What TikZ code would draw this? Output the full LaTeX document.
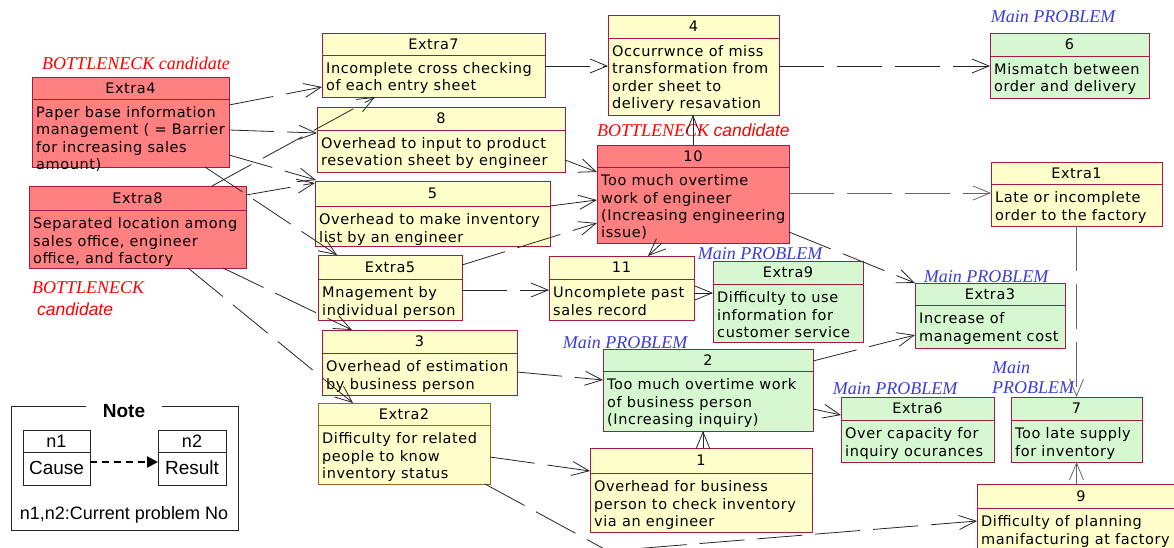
\documentclass[tikz,border=0pt]{standalone}
\usepackage{fontspec}
\usetikzlibrary{arrows.meta,calc}
\newfontfamily\boxfont[LetterSpace=4]{DejaVu Sans}
\newfontfamily\lblserif{Liberation Serif}
\newfontfamily\arialf{Liberation Sans}
\definecolor{bordc}{RGB}{165,25,70}
\definecolor{brownc}{RGB}{160,100,40}
\definecolor{yfill}{RGB}{255,255,204}
\definecolor{gfill}{RGB}{214,248,208}
\definecolor{rfill}{RGB}{255,128,128}
\definecolor{lblred}{RGB}{255,0,0}
\definecolor{lblblue}{RGB}{60,60,220}
\newcommand\ubox[9]{%
  \pgfmathsetmacro\uW{#4-#2}\pgfmathsetmacro\uH{#5-#3}%
  \node[uboxs,#7,minimum width=\uW pt,minimum height=\uH pt] (#1) at ({(#2+#4)/2},{(#3+#5)/2}) {};
  \draw[#7,line width=0.9pt] (#2,#6) -- (#4,#6);
  \node[utitle] (#1t) at ({(#2+#4)/2},{(#3+#6)/2}) {#8};
  \node[ubody] (#1b) at (#2+4,#6+5.5) {\rule{0pt}{13pt}#9};
}
\begin{document}
\begin{tikzpicture}[x=1pt,y=-1pt,
  uboxs/.style={draw,line width=0.9pt,inner sep=0pt,outer sep=0pt},
  yb/.style={fill=yfill,draw=bordc},
  ybb/.style={fill=yfill,draw=brownc},
  gb/.style={fill=gfill,draw=bordc},
  rb/.style={fill=rfill,draw=bordc},
  utitle/.style={inner sep=0pt,anchor=center,text height=10.5pt,text depth=0pt,
    font=\boxfont\fontsize{14.5}{17}\selectfont},
  ubody/.style={inner sep=0pt,anchor=north west,align=left,
    font=\boxfont\fontsize{14.5}{17.3}\selectfont},
  conn/.style={draw=black!85,line width=0.8pt,dash pattern=on 45pt off 13pt,
    -{Straight Barb[length=17pt,width=14pt]}},
  redlbl/.style={inner sep=0pt,text=lblred,font=\lblserif\itshape\fontsize{18}{20}\selectfont},
  bluelbl/.style={inner sep=0pt,text=lblblue,font=\lblserif\itshape\fontsize{18}{20}\selectfont},
  notef/.style={inner sep=0pt,font=\arialf\fontsize{18}{20}\selectfont}
]
\fill[white] (0,0) rectangle (1174,548);
\useasboundingbox (0,0) rectangle (1174,548);

% boxes
\ubox{e4}{32}{77}{229}{167}{99}{rb}{Extra4}{Paper base information\\management ( = Barrier\\for increasing sales\\amount)}
\ubox{e8}{29}{186}{246}{268}{210}{rb}{Extra8}{Separated location among\\sales office, engineer\\office, and factory}
\ubox{e7}{322}{33}{545}{97}{55}{yb}{Extra7}{Incomplete cross checking\\of each entry sheet}
\ubox{n8}{317}{107}{565}{172}{130}{yb}{8}{Overhead to input to product\\resevation sheet by engineer}
\ubox{n5}{315}{181}{550}{246}{206}{yb}{5}{Overhead to make inventory\\list by an engineer}
\ubox{e5}{318}{255}{462}{320}{279}{yb}{Extra5}{Mnagement by\\individual person}
\ubox{n3}{322}{330}{517}{395}{353}{yb}{3}{Overhead of estimation\\by business person}
\ubox{e2}{318}{403}{490}{484}{425}{ybb}{Extra2}{Difficulty for related\\people to know\\inventory status}
\ubox{n4}{608}{15}{779}{115}{38}{yb}{4}{Occurrwnce of miss\\transformation from\\order sheet to\\delivery resavation}
\ubox{n10}{597}{145}{789}{243}{167}{rb}{10}{Too much overtime\\work of engineer\\(Increasing engineering\\issue)}
\ubox{n11}{549}{256}{694}{320}{279}{yb}{11}{Uncomplete past\\sales record}
\ubox{e9}{713}{261}{863}{342}{284}{gb}{Extra9}{Difficulty to use\\information for\\customer service}
\ubox{n6}{990}{33}{1149}{98}{56}{gb}{6}{Mismatch between\\order and delivery}
\ubox{e1}{991}{162}{1162}{226}{184}{yb}{Extra1}{Late or incomplete\\order to the factory}
\ubox{e3}{915}{283}{1065}{348}{305}{gb}{Extra3}{Increase of\\management cost}
\ubox{n2}{603}{349}{813}{431}{371}{gb}{2}{Too much overtime work\\of business person\\(Increasing inquiry)}
\ubox{e6}{841}{397}{994}{462}{420}{gb}{Extra6}{Over capacity for\\inquiry ocurances}
\ubox{n7}{1011}{397}{1142}{462}{420}{gb}{7}{Too late supply\\for inventory}
\ubox{n1}{590}{448}{812}{532}{473}{yb}{1}{Overhead for business\\person to check inventory\\via an engineer}
\ubox{n9}{977}{484}{1185}{556}{508}{yb}{9}{Difficulty of planning\\manifacturing at factory}

% labels
\node[redlbl] (bn1) at (136,63) {BOTTLENECK candidate};
\node[redlbl,anchor=west] (bn2) at (597,130) {BOTTLENECK {\arialf\itshape\fontsize{17.5}{20}\selectfont candidate}};
\node[redlbl,anchor=west] (bn3a) at (32,288) {BOTTLENECK};
\node[redlbl,anchor=west] (bn3b) at (37,309) {\arialf\itshape\fontsize{17.5}{20}\selectfont candidate};
\node[bluelbl] (mp6) at (1053,17) {Main PROBLEM};
\node[bluelbl] (mp9) at (760,254) {Main PROBLEM};
\node[bluelbl] (mp3) at (986,277) {Main PROBLEM};
\node[bluelbl] (mp2) at (625,343) {Main PROBLEM};
\node[bluelbl] (mpe6) at (895,389) {Main PROBLEM};
\node[bluelbl,anchor=west,align=left] (mp7) at (992,378) {Main\\PROBLEM};

% connectors
\draw[conn] ($(e4.north east)+(0,28)$) -- ($(e7.north west)+(0,54)$);
\draw[conn] ($(e4.north east)+(0,53)$) -- ($(n8.north west)+(0,26)$);
\draw[conn] ($(e8.north west)+(183,0)$) -- ($(e7.south west)+(53,0)$);
\draw[conn] ($(e4.north east)+(0,78)$) -- ($(n5.north west)+(1,-1)$);
\draw[conn] ($(e8.north east)+(0,9)$) -- ($(n5.north west)+(0,2)$);
\draw[conn] ($(e4.south west)+(173,0)$) -- ($(e5.north west)+(19,0)$);
\draw[conn] ($(e8.south west)+(194,0)$) -- ($(n3.north west)+(30,0)$);
\draw[conn] ($(e8.south west)+(159,0)$) -- ($(e2.north west)+(35,0)$);
\draw[conn] ($(e5.north east)+(0,10)$) -- ($(n10.north west)+(0,78)$);
\draw[conn] ($(n8.north east)+(0,53)$) -- ($(n10.north west)+(0,27)$);
\draw[conn] ($(n5.north east)+(0,25)$) -- ($(n10.north west)+(0,55)$);
\draw[conn] ($(e7.north east)+(0,33)$) -- ($(n4.north west)+(0,51)$);
\draw[conn] (n10.north) -- (n10.north |- n4.south);
\draw[conn] ($(n4.north east)+(0,51)$) -- ($(n6.north west)+(0,33)$);
\draw[conn,draw=black!60] ($(n10.north east)+(0,48)$) -- ($(e1.north west)+(0,31)$);
\draw[conn] ($(n10.south west)+(65,0)$) -- ($(n11.north west)+(99,0)$);
\draw[conn] ($(n10.north east)+(0,87)$) -- (e3.north west);
\draw[conn] ($(e5.north east)+(0,35)$) -- ($(n11.north west)+(0,34)$);
\draw[conn] ($(n11.north east)+(0,37)$) -- ($(e9.north west)+(0,32)$);
\draw[conn] ($(n3.north east)+(0,42)$) -- ($(n2.north west)+(0,31)$);
\draw[conn] ($(n2.north east)+(0,12)$) -- ($(e3.north west)+(0,52)$);
\draw[conn] ($(n2.north east)+(0,60)$) -- ($(e6.north west)+(0,18)$);
\draw[conn] ($(n1.north west)+(113,0)$) -- ($(n2.south west)+(100,0)$);
\draw[conn] ($(e2.north east)+(0,54)$) -- ($(n1.north west)+(0,23)$);
\coordinate (bend) at (608,551);
\draw[conn] ($(e2.south east)+(-5,0)$) -- (bend) -- ($(n9.north west)+(0,37)$);
\draw[conn,draw=black!60] (e1.south) -- (e1.south |- n7.north);
\draw[conn,draw=black!60] (n7.south |- n9.north) -- (n7.south);

% note
\node[draw=black!85,line width=1pt,minimum width=227pt,minimum height=124pt,inner sep=0pt,outer sep=0pt] (note) at (124.5,468) {};
\node[fill=white,inner xsep=17pt,inner ysep=1pt,font=\arialf\bfseries\fontsize{19}{20}\selectfont] (notet) at (124,411) {Note};
\node[draw=black!85,line width=0.9pt,fill=white,minimum width=67pt,minimum height=55pt,inner sep=0pt,outer sep=0pt] (nn1) at (56.5,457.5) {};
\draw[black!85,line width=0.9pt] (23,452) -- (90,452);
\node[notef] (nn1t) at (56.5,441) {n1};
\node[notef,font=\arialf\fontsize{19}{20}\selectfont] (nn1b) at (56.5,468) {Cause};
\node[draw=black!85,line width=0.9pt,fill=white,minimum width=68pt,minimum height=55pt,inner sep=0pt,outer sep=0pt] (nn2) at (192,457.5) {};
\draw[black!85,line width=0.9pt] (158,452) -- (226,452);
\node[notef] (nn2t) at (192,441) {n2};
\node[notef,font=\arialf\fontsize{19}{20}\selectfont] (nn2b) at (192,468) {Result};
\draw[line width=2.2pt,dash pattern=on 7pt off 5pt,-{Triangle[length=11pt,width=11pt]}] ($(nn1.north east)+(0,32)$) -- ($(nn2.north west)+(0,32)$);
\node[notef] (notel) at (124,515) {n1,n2:Current problem No};
\end{tikzpicture}
\end{document}
